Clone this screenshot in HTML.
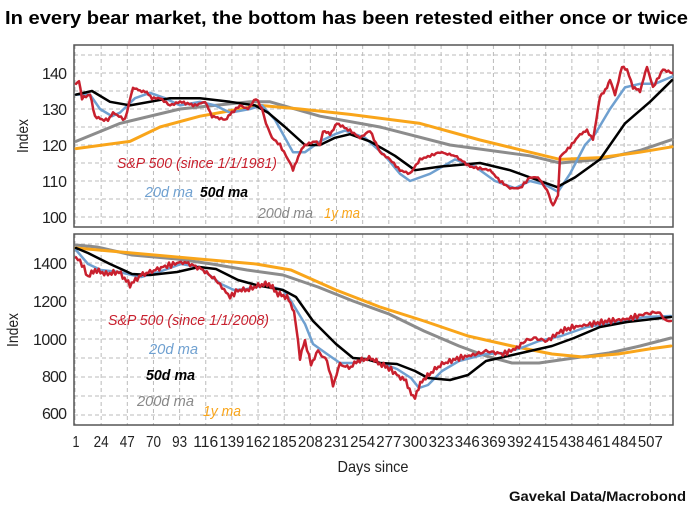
<!DOCTYPE html>
<html><head><meta charset="utf-8"><style>
html,body{margin:0;padding:0;background:#fff;width:693px;height:509px;overflow:hidden}
svg{display:block}
text{font-family:"Liberation Sans Narrow","Liberation Sans",sans-serif}
</style></head><body>
<svg id="s" width="693" height="509" viewBox="0 0 693 509" xmlns="http://www.w3.org/2000/svg">
<text x="5" y="24" font-size="18" font-weight="bold" textLength="683" lengthAdjust="spacingAndGlyphs">In every bear market, the bottom has been retested either once or twice</text>
<g id="grid" stroke="#bbb" stroke-width="1" stroke-dasharray="4,3"></g>
<rect x="74" y="45" width="599" height="182" fill="none" stroke="#555" stroke-width="1.5"/>
<rect x="74" y="234" width="599" height="191" fill="none" stroke="#555" stroke-width="1.5"/>
<g id="lines" fill="none" stroke-linejoin="round" stroke-linecap="round"></g>
<g font-size="16" fill="#222" text-anchor="end" lengthAdjust="spacingAndGlyphs">
<text x="67" y="79" textLength="25">140</text><text x="67" y="115" textLength="25">130</text><text x="67" y="151" textLength="25">120</text><text x="67" y="187" textLength="25">110</text><text x="67" y="223" textLength="25">100</text>
<text x="67" y="269" textLength="34">1400</text><text x="67" y="307" textLength="34">1200</text><text x="67" y="345" textLength="34">1000</text><text x="67" y="382" textLength="25">800</text><text x="67" y="419" textLength="25">600</text>
</g>
<text transform="translate(28,136) rotate(-90)" font-size="16" text-anchor="middle" fill="#222" textLength="34" lengthAdjust="spacingAndGlyphs">Index</text>
<text transform="translate(18,330) rotate(-90)" font-size="16" text-anchor="middle" fill="#222" textLength="34" lengthAdjust="spacingAndGlyphs">Index</text>
<g id="xl" font-size="16" fill="#222" text-anchor="middle"></g>
<text x="373" y="472" font-size="16" text-anchor="middle" fill="#222" textLength="71" lengthAdjust="spacingAndGlyphs">Days since</text>
<text x="686" y="501" font-size="14" font-weight="bold" text-anchor="end" fill="#111" textLength="177" lengthAdjust="spacingAndGlyphs">Gavekal Data/Macrobond</text>
<g font-size="15" font-style="italic" lengthAdjust="spacingAndGlyphs">
<text x="117" y="168" fill="#c8202e" textLength="160" lengthAdjust="spacingAndGlyphs">S&amp;P 500 (since 1/1/1981)</text>
<text x="145" y="197" fill="#6fa0d0" textLength="48" lengthAdjust="spacingAndGlyphs">20d ma</text>
<text x="200" y="197" fill="#000" font-weight="bold" textLength="48" lengthAdjust="spacingAndGlyphs">50d ma</text>
<text x="258" y="218" fill="#888" textLength="55" lengthAdjust="spacingAndGlyphs">200d ma</text>
<text x="324" y="218" fill="#f9a51a" textLength="36" lengthAdjust="spacingAndGlyphs">1y ma</text>
<text x="108" y="325" fill="#c8202e" textLength="161" lengthAdjust="spacingAndGlyphs">S&amp;P 500 (since 1/1/2008)</text>
<text x="149" y="354" fill="#6fa0d0" textLength="49" lengthAdjust="spacingAndGlyphs">20d ma</text>
<text x="146" y="380" fill="#000" font-weight="bold" textLength="49" lengthAdjust="spacingAndGlyphs">50d ma</text>
<text x="137" y="406" fill="#888" textLength="57" lengthAdjust="spacingAndGlyphs">200d ma</text>
<text x="203" y="416" fill="#f9a51a" textLength="38" lengthAdjust="spacingAndGlyphs">1y ma</text>
</g>
</svg>
<script>
var NS="http://www.w3.org/2000/svg",s=document.getElementById('s');
var g=document.getElementById('grid'),xl=document.getElementById('xl');
function ln(x1,y1,x2,y2){var l=document.createElementNS(NS,'line');l.setAttribute('x1',x1);l.setAttribute('y1',y1);l.setAttribute('x2',x2);l.setAttribute('y2',y2);g.appendChild(l);}
for(var d=1;d<=530;d+=23){var x=75+(d-1)*1.137;if(x>74.5&&x<672){ln(x,45,x,227);ln(x,234,x,425);}
 if(d>507)continue;
 var t=document.createElementNS(NS,'text');t.setAttribute('x',x+(d==1?1:0));t.setAttribute('y',447);t.textContent=d;
 var L=String(d).length;t.setAttribute('textLength',L==1?7:(L==2?15:25));t.setAttribute('lengthAdjust','spacingAndGlyphs');xl.appendChild(t);}
for(var v=145;v>=100;v-=5){var y=109-(v-130)*3.6;ln(74,y,673,y);}
for(var v=1500;v>=600;v-=100){var y=263-(v-1400)*0.19;if(y>235)ln(74,y,673,y);}
function T(a){var r=[];for(var i=0;i<a.length;i+=2)r.push([a[i],109-(a[i+1]-130)*3.6]);return r;}
function P(pts,col,w,jit){var d='';var out=[];
 if(jit){for(var i=0;i<pts.length-1;i++){var a=pts[i],b=pts[i+1];var n=Math.max(1,Math.round((b[0]-a[0])/2));for(var k=0;k<n;k++){var f=k/n;var x=a[0]+(b[0]-a[0])*f,y=a[1]+(b[1]-a[1])*f;y+=jit*(Math.sin(x*1.7)+0.6*Math.sin(x*4.3+1));out.push([x,y]);}}out.push(pts[pts.length-1]);}else out=pts;
 for(var i=0;i<out.length;i++)d+=(i?'L':'M')+out[i][0].toFixed(1)+','+out[i][1].toFixed(1);
 var p=document.createElementNS(NS,'path');p.setAttribute('d',d);p.setAttribute('stroke',col);p.setAttribute('stroke-width',w);document.getElementById('lines').appendChild(p);}
P(T([76,121,120,126,180,130,250,132,270,132,320,128,380,125,450,120,530,117,560,115,600,116,640,118.5,672,121.5]),'#8c8c8c',3);
P(T([76,119,130,121,160,125,200,128,260,131,300,130,350,128.5,420,126,480,121.4,530,118,560,116,600,116.5,640,118,672,119.5]),'#f9a51a',3);
P(T([76,134,90,134,100,130,112,128,120,129,135,133,150,134.5,165,133,180,131,200,132,215,131,230,129,250,130,262,131,275,127,293,118,305,118,320,121,335,123,345,124,365,122,385,117,400,112,410,110,430,112,455,116,475,114,495,110,515,108,530,110,545,109,558,107,570,112,585,120,595,123,610,130,625,136,640,137,655,137,672,139]),'#6fa0d0',2.5);
P(T([76,134,92,135,110,132,130,131,170,133,200,133,230,132,255,131,268,129,285,125,305,120,320,120,335,122,350,123,370,121,395,117,415,113,440,114,480,115,510,113,540,110,557,108.3,575,111,600,116,625,126,650,132,672,138]),'#000',2.5);
P(T([76,137,79,138,82,133,90,134,95,128,102,127,108,127,113,129,125,127,133,136,140,135,145,135,152,133,160,133,170,131,180,132,195,131,205,132,212,128,225,127,232,129,240,131,248,130,256,133,262,130,266,126,272,122,280,120,290,115,293,113,300,118,305,120,315,121,320,120,323,124,330,123,337,126,350,124,360,122,370,124,380,118,390,116,400,113,410,112,420,116,440,118,455,117,470,114,490,113,500,110,510,108,520,108,530,111,538,111,547,107.5,553,103,558,106,560,116.7,570,119.5,580,123,587,124,593,121.5,600,133.4,607,136,610,138,615,134,622,141.7,627,141,633,136,640,135,647,141.7,653,136,663,141,672,140]),'#c8202e',2.5,0.8);
P([[76,245],[97,247],[132,255],[177,259],[212,264],[247,270],[283,275],[318,287],[353,301],[389,314],[424,331],[459,346],[486,356],[512,363],[539,363],[574,358],[609,353],[640,346],[671,338]],'#8c8c8c',3);
P([[76,248],[132,253],[199,259],[256,264],[291,270],[336,290],[380,307],[424,321],[468,336],[512,346],[552,354],[583,357],[618,354],[649,349],[671,346]],'#f9a51a',3);
P([[76,250],[88,264],[101,270],[119,272],[141,277],[159,272],[181,264],[199,267],[221,284],[234,290],[247,289],[265,285],[283,290],[291,301],[305,324],[313,344],[327,354],[340,363],[353,363],[366,359],[384,364],[397,369],[411,378],[419,388],[428,385],[442,371],[459,361],[486,354],[503,353],[521,348],[539,341],[561,336],[587,327],[618,322],[645,317],[671,316]],'#6fa0d0',2.5);
P([[76,248],[88,253],[110,264],[132,274],[150,275],[177,272],[199,267],[216,269],[238,280],[256,285],[283,290],[296,297],[313,321],[336,344],[353,358],[366,359],[380,363],[397,364],[415,371],[428,378],[450,380],[468,375],[486,361],[508,356],[530,351],[552,346],[574,338],[600,327],[627,322],[653,319],[671,317]],'#000',2.5);
P([[76,257],[82,264],[88,277],[95,270],[106,274],[119,272],[130,285],[141,275],[150,272],[163,267],[181,262],[190,264],[203,270],[216,280],[230,297],[238,290],[247,290],[260,285],[269,284],[278,294],[287,297],[294,311],[298,341],[300,358],[305,341],[311,364],[318,351],[327,361],[333,385],[340,364],[349,368],[358,361],[371,358],[380,364],[389,368],[397,375],[406,381],[413,398],[415,396],[422,381],[433,371],[442,364],[459,358],[477,354],[486,351],[503,354],[517,348],[525,341],[534,338],[547,341],[561,331],[574,327],[592,324],[609,321],[627,319],[645,314],[658,312],[667,321],[671,321]],'#c8202e',2.5,1.8);
</script>
</body></html>
